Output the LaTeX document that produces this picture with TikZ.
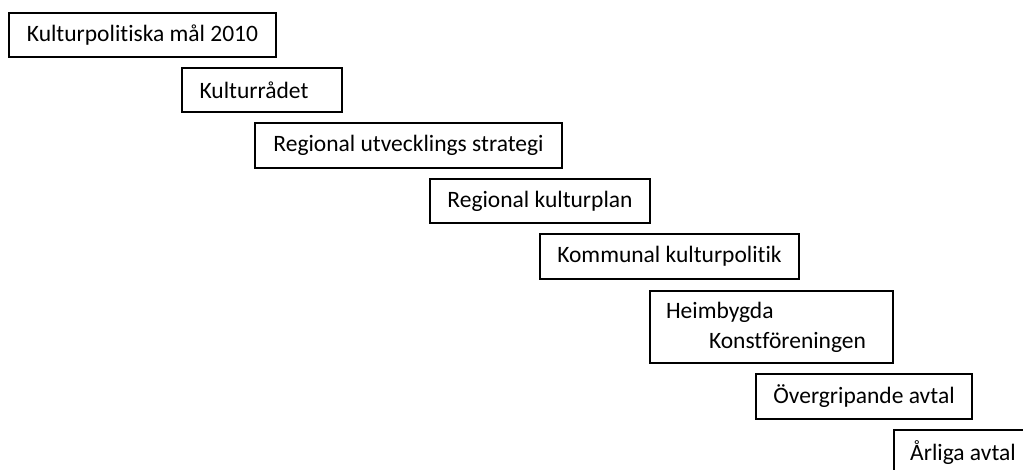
\documentclass[tikz,border=0pt]{standalone}
\usepackage{fontspec}
\setmainfont[Ligatures={NoCommon}]{Carlito}
\begin{document}
\begin{tikzpicture}[x=1pt,y=-1pt,
  box/.style={draw=black,line width=1.3pt,rectangle,inner sep=0pt,
    font=\fontsize{23.5}{30}\selectfont,anchor=center}]
\useasboundingbox (0,0) rectangle (1023,470);
\node[box,minimum width=267pt,minimum height=44pt] (b1) at (142.5,35) {Kulturpolitiska mål 2010};
\node[box,minimum width=160pt,minimum height=44pt] (b2) at (262,90) {Kulturrådet\hspace*{16pt}};
\node[box,minimum width=307pt,minimum height=45pt] (b3) at (408.5,145.5) {Regional utvecklings strategi};
\node[box,minimum width=220pt,minimum height=44pt] (b4) at (540,201) {Regional kulturplan};
\node[box,minimum width=259pt,minimum height=45pt] (b5) at (669.5,256.5) {Kommunal kulturpolitik};
\node[box,minimum width=243pt,minimum height=72pt,align=left] (b6) at (771.5,327) {Heimbygda\\\hspace*{43pt}Konstföreningen\hspace*{11pt}};
\node[box,minimum width=216pt,minimum height=45pt] (b7) at (864,396.5) {Övergripande avtal};
\node[box,minimum width=138pt,minimum height=45pt] (b8) at (963,452.5) {Årliga avtal};
\end{tikzpicture}
\end{document}
